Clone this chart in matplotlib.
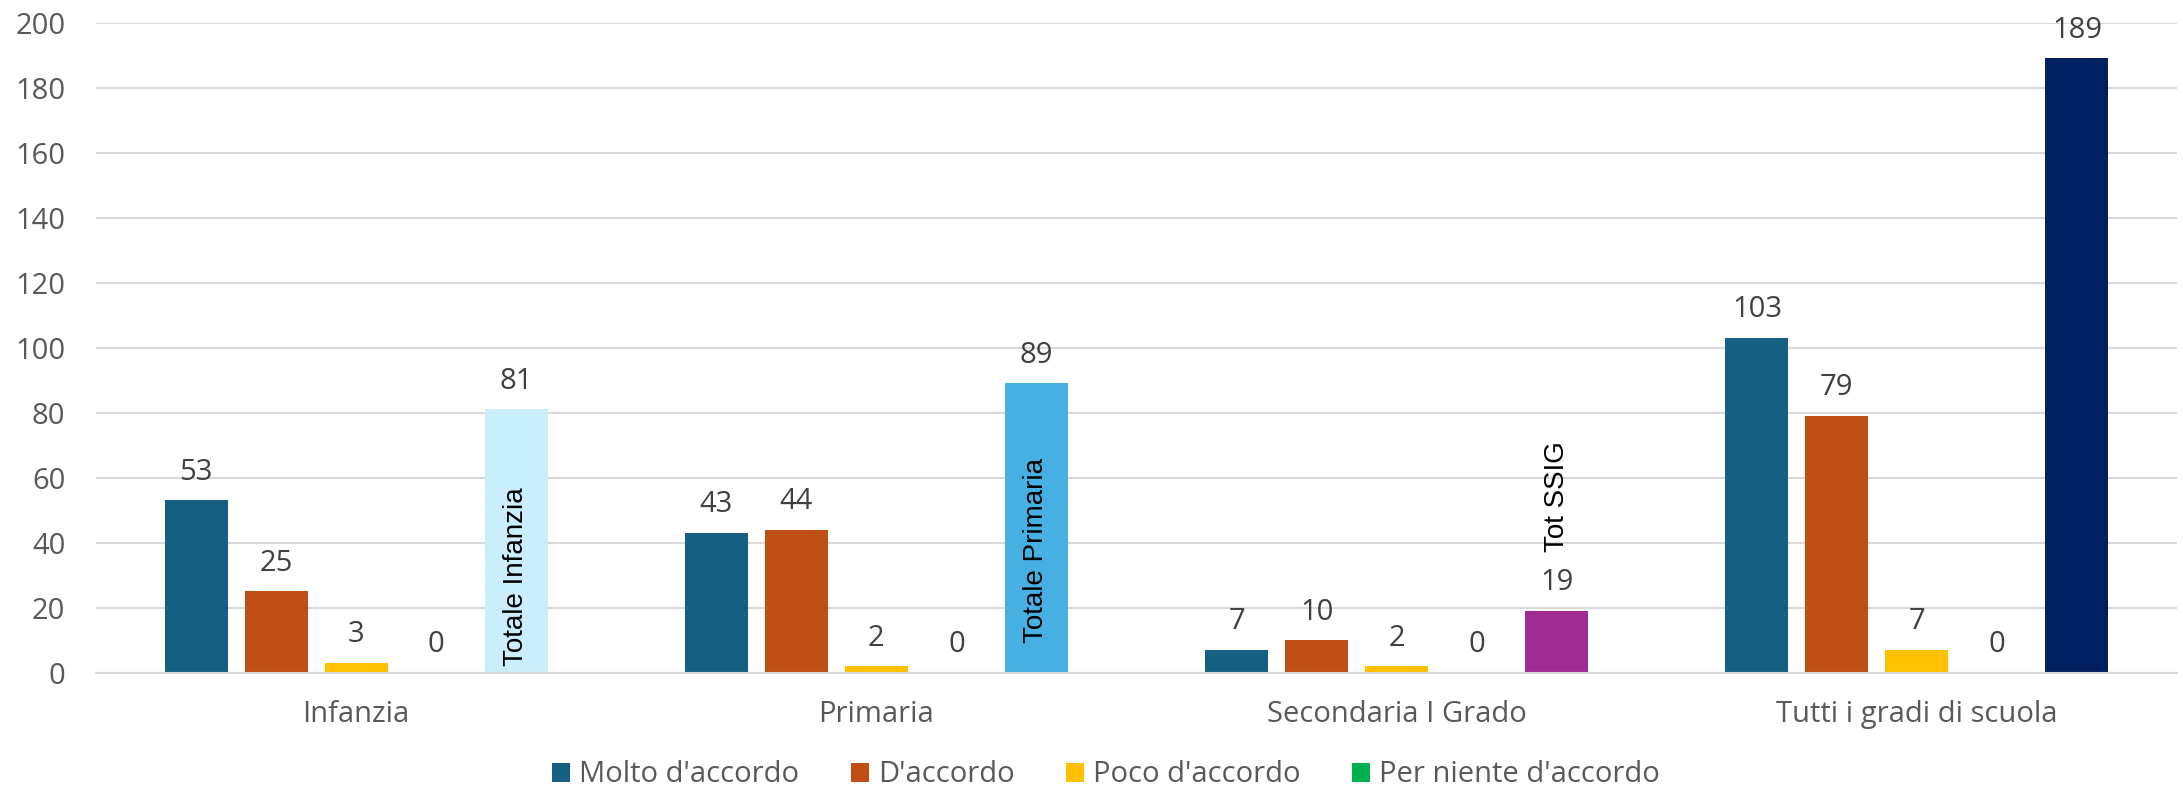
import matplotlib
matplotlib.use("Agg")
import matplotlib.pyplot as plt
import numpy as np

# ---- data ----
categories = ["Infanzia", "Primaria", "Secondaria I Grado", "Tutti i gradi di scuola"]
series_names = ["Molto d'accordo", "D'accordo", "Poco d'accordo", "Per niente d'accordo"]
molto = [53, 43, 7, 103]
daccordo = [25, 44, 10, 79]
poco = [3, 2, 2, 7]
per_niente = [0, 0, 0, 0]
totale = [81, 89, 19, 189]
totale_text = ["Totale Infanzia", "Totale Primaria", "Tot SSIG", ""]
y_ticks = [0, 20, 40, 60, 80, 100, 120, 140, 160, 180, 200]

# ---- styles / layout ----
series_colors = ["#156082", "#C04F15", "#FFC000", "#00B050"]
totale_colors = ["#CAEEFB", "#45B0E1", "#A02B93", "#002060"]
totale_text_y = [2, 9, 37, None]   # baseline position of rotated names (data units)
W, H = 2183, 789
DPI = 100
FONT = "Open Sans"
FS = 21

fig = plt.figure(figsize=(W / DPI, H / DPI), dpi=DPI)
ax = fig.add_axes([96 / W, 1 - 672.7 / H, (2177 - 96) / W, (672.7 - 22.7) / H])

x = np.arange(len(categories))
pitch = 0.1538
bw = 0.1211
all_series = [molto, daccordo, poco, per_niente]

label_kw = dict(textcoords="offset points", ha="center", va="baseline",
                fontsize=FS, family=FONT, color="#404040")

for i, (vals, col, name) in enumerate(zip(all_series, series_colors, series_names)):
    xs = x + (i - 2) * pitch
    bars = ax.bar(xs, vals, width=bw, color=col, label=name, zorder=3, linewidth=0)
    for xi, v in zip(xs, vals):
        ax.annotate(f"{v}", (xi, v), xytext=(0, 14.8), **label_kw)

xs_t = x + 2 * pitch
ax.bar(xs_t, totale, width=bw, color=totale_colors, zorder=3, linewidth=0)
for xi, v in zip(xs_t, totale):
    ax.annotate(f"{v}", (xi, v), xytext=(0, 14.8), **label_kw)
for xi, t, ty in zip(xs_t, totale_text, totale_text_y):
    if t:
        ax.text(xi, ty, t, rotation=90, ha="center", va="bottom",
                fontsize=20, family="Liberation Sans", color="#000000", zorder=4)

ax.set_xlim(-0.5, len(categories) - 0.5)
ax.set_ylim(0, 200)
ax.set_yticks(y_ticks)
ax.set_xticks(x)
ax.set_xticklabels(categories)
for lab in ax.get_xticklabels() + ax.get_yticklabels():
    lab.set_family(FONT)
    lab.set_fontsize(FS)
    lab.set_color("#595959")
ax.tick_params(axis="x", length=0, pad=20)
ax.tick_params(axis="y", length=0, pad=22)

ax.grid(axis="y", color="#D9D9D9", linewidth=1.5, zorder=0)
for s in ["top", "right", "left"]:
    ax.spines[s].set_visible(False)
ax.spines["bottom"].set_color("#D9D9D9")
ax.spines["bottom"].set_linewidth(1.5)
ax.spines["bottom"].set_zorder(5)

leg = fig.legend(loc="center", bbox_to_anchor=(1106 / W, 1 - 775 / H), ncol=4,
                 frameon=False, prop={"family": FONT, "size": FS},
                 handlelength=0.62, handleheight=0.62, handletextpad=0.31,
                 columnspacing=1.76, borderaxespad=0, borderpad=0)
for t in leg.get_texts():
    t.set_color("#595959")

fig.savefig("out.png", dpi=DPI)
